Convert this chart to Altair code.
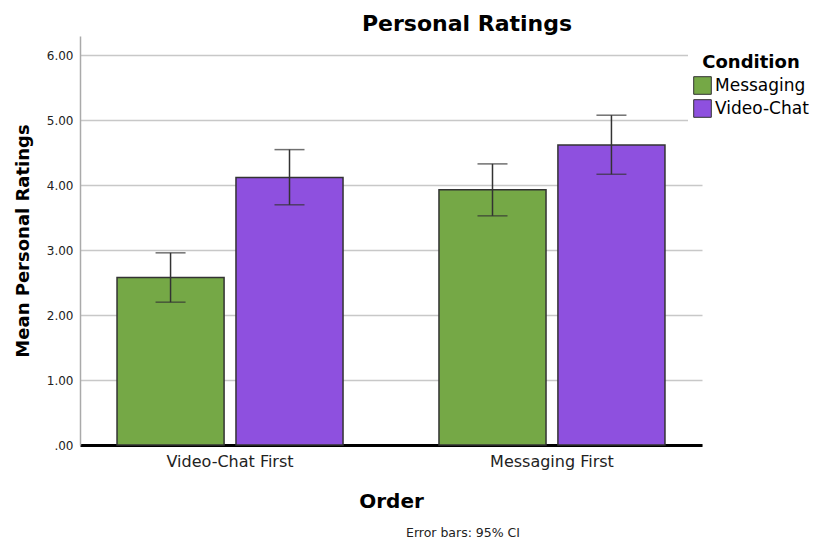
import altair as alt
import pandas as pd

orders = ["Video-Chat First", "Messaging First"]
conditions = ["Messaging", "Video-Chat"]
messaging_mean = [2.58, 3.93]
videochat_mean = [4.12, 4.62]
messaging_lo = [2.20, 3.53]
messaging_hi = [2.96, 4.33]
videochat_lo = [3.70, 4.17]
videochat_hi = [4.55, 5.08]
y_ticks = [0, 1, 2, 3, 4, 5, 6]
colors = ["#75A846", "#8E50DF"]

rows = []
for i, o in enumerate(orders):
    rows.append({"Order": o, "Condition": "Messaging", "mean": messaging_mean[i],
                 "lo": messaging_lo[i], "hi": messaging_hi[i]})
    rows.append({"Order": o, "Condition": "Video-Chat", "mean": videochat_mean[i],
                 "lo": videochat_lo[i], "hi": videochat_hi[i]})
df = pd.DataFrame(rows)

FONT = "DejaVu Sans"

x_enc = alt.X("Order:N", sort=orders,
              scale=alt.Scale(paddingInner=0.298, paddingOuter=0.115),
              axis=alt.Axis(title="Order", labelAngle=0, labelFontSize=16, labelFont=FONT,
                            labelColor="#222", labelPadding=8, ticks=False,
                            domainColor="#000", domainWidth=3,
                            titleFont=FONT, titleFontSize=20, titleFontWeight="bold",
                            titleColor="#000", titlePadding=22))
xo_enc = alt.XOffset("Condition:N", sort=conditions,
                     scale=alt.Scale(paddingInner=0.1, paddingOuter=0))
y_scale = alt.Scale(domain=[0, 6.3], nice=False)

bars = alt.Chart(df).mark_bar(stroke="#333", strokeWidth=1.5).encode(
    x=x_enc,
    xOffset=xo_enc,
    y=alt.Y("mean:Q", scale=y_scale,
            axis=alt.Axis(title="Mean Personal Ratings", values=y_ticks,
                          labelExpr="datum.value == 0 ? '.00' : format(datum.value, '.2f')",
                          labelFont=FONT, labelFontSize=12, labelColor="#222",
                          labelPadding=7, ticks=False,
                          grid=True, gridColor="#c8c8c8", gridWidth=1.5,
                          domainColor="#aaa", domainWidth=1.5,
                          titleFont=FONT, titleFontSize=18, titleFontWeight="bold",
                          titleColor="#000", titlePadding=14)),
    color=alt.Color("Condition:N", sort=conditions,
                    scale=alt.Scale(domain=conditions, range=colors),
                    legend=alt.Legend(title="Condition", orient="none",
                                      legendX=608, legendY=13,
                                      titleFont=FONT, titleFontSize=18, titleFontWeight="bold",
                                      titleColor="#000", titleAnchor="middle", titlePadding=4,
                                      labelFont=FONT, labelFontSize=17, labelColor="#000",
                                      labelOffset=3,
                                      symbolType="square", symbolSize=310,
                                      symbolStrokeColor="#333", symbolStrokeWidth=1,
                                      rowPadding=0, fillColor="#ffffff", padding=5)),
)

rules = alt.Chart(df).mark_rule(color="#333", strokeWidth=1.5).encode(
    x=alt.X("Order:N", sort=orders),
    xOffset=alt.XOffset("Condition:N", sort=conditions),
    y=alt.Y("lo:Q", scale=y_scale),
    y2="hi:Q",
)
caps_hi = alt.Chart(df).mark_tick(color="#333", thickness=1.5, size=30).encode(
    x=alt.X("Order:N", sort=orders),
    xOffset=alt.XOffset("Condition:N", sort=conditions),
    y=alt.Y("hi:Q", scale=y_scale),
)
caps_lo = alt.Chart(df).mark_tick(color="#333", thickness=1.5, size=30).encode(
    x=alt.X("Order:N", sort=orders),
    xOffset=alt.XOffset("Condition:N", sort=conditions),
    y=alt.Y("lo:Q", scale=y_scale),
)

note_df = pd.DataFrame({"note": ["Error bars: 95% CI"]})
note = alt.Chart(note_df).mark_text(font=FONT, fontSize=12.5, color="#222",
                                    align="center", baseline="alphabetic").encode(
    text="note:N", x=alt.value(383), y=alt.value(501))

chart = alt.layer(bars, rules, caps_hi, caps_lo, note).properties(
    width=622, height=409,
    background="#ffffff",
    title=alt.TitleParams("Personal Ratings", font=FONT, fontSize=22, fontWeight="bold",
                          color="#000", anchor="middle", dx=76, dy=25, offset=8,
                          baseline="alphabetic"),
    autosize=alt.AutoSizeParams(type="none"),
    padding={"left": 80, "top": 36, "right": 123, "bottom": 99},
).configure_view(strokeWidth=0)

chart.save("out.html", embed_options={"renderer": "svg", "actions": False})
